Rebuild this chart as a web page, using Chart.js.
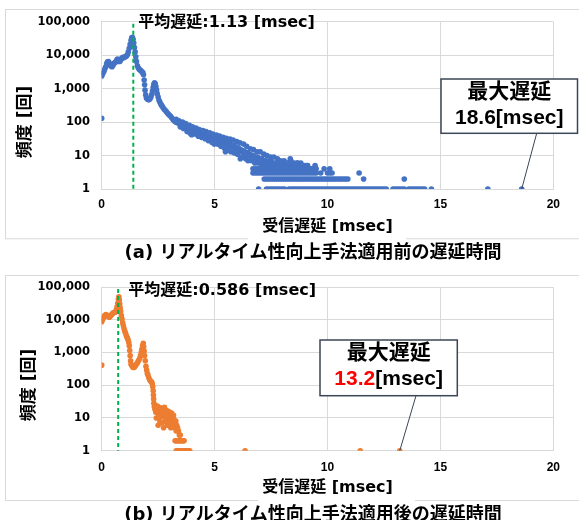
<!DOCTYPE html>
<html>
<head>
<meta charset="utf-8">
<script src="https://cdn.jsdelivr.net/npm/chart.js@4.4.1/dist/chart.umd.min.js"></script>
<style>
  html, body { margin: 0; padding: 0; background: #fff; }
  #wrap { position: relative; width: 579px; height: 520px; overflow: hidden; }
  .box { position: absolute; left: 0; width: 579px; }
</style>
</head>
<body>
<div id="wrap">
  <div class="box" style="top:0;height:265px"><canvas id="before"></canvas></div>
  <div class="box" style="top:265px;height:255px"><canvas id="after"></canvas></div>
</div>
<script>
// axis ticks
const yTicks = [1, 10, 100, 1000, 10000, 100000];
const xMax = 20;
const xStep = 5;

// (a) before - main curve (delay msec / count)
const beforeCurveX = [0, 0, 0.03, 0.06, 0.10, 0.14, 0.18, 0.22, 0.26, 0.30, 0.34, 0.38, 0.42, 0.46, 0.50, 0.54, 0.58, 0.62, 0.66, 0.70,
  0.74, 0.78, 0.82, 0.86, 0.90, 0.94, 0.98, 1.02, 1.06, 1.10, 1.14, 1.18, 1.22, 1.26, 1.30, 1.33, 1.36, 1.39, 1.42, 1.45,
  1.48, 1.51, 1.54, 1.58, 1.62, 1.66, 1.70, 1.74, 1.78, 1.82, 1.85, 1.88, 1.90, 1.92, 1.95, 1.98, 2.02, 2.06, 2.10, 2.14,
  2.18, 2.22, 2.25, 2.28, 2.31, 2.34, 2.37, 2.40, 2.43, 2.46, 2.50, 2.54, 2.58, 2.62, 2.66, 2.70, 2.75, 2.80, 2.85, 2.90,
  2.95, 3.00, 3.05, 3.10, 3.15, 3.20];
const beforeCurveY = [130, 2400, 2700, 3000, 3300, 3900, 4500, 5600, 6300, 6400, 5700, 5100, 4700, 4500, 5000, 5700, 5900, 6200, 7000, 7600,
  7200, 6500, 6700, 7500, 8200, 8600, 8300, 8800, 9100, 9400, 10500, 12500, 16000, 21000, 28000, 33000, 34000, 30000, 23000, 17000,
  12500, 9000, 6500, 4800, 4200, 3800, 3600, 3400, 3200, 3000, 2600, 1800, 1300, 900, 650, 520, 490, 470, 470, 500,
  560, 680, 850, 1100, 1350, 1500, 1400, 1150, 900, 700, 560, 450, 390, 340, 310, 280, 250, 230, 210, 190,
  175, 160, 150, 135, 122, 112];

// (a) before - tail
const beforeTailX = [3.25, 3.30, 3.35, 3.40, 3.45, 3.50, 3.55, 3.60, 3.65, 3.70, 3.75, 3.80, 3.85, 3.90, 3.95, 4.00, 4.05, 4.10, 4.15, 4.20,
  4.25, 4.30, 4.35, 4.40, 4.45, 4.50, 4.55, 4.60, 4.65, 4.70, 4.75, 4.80, 4.85, 4.90, 4.95, 5.00, 5.05, 5.10, 5.15, 5.20,
  5.25, 5.30, 5.35, 5.40, 5.45, 5.50, 5.55, 5.60, 5.65, 5.70, 5.75, 5.80, 5.85, 5.90, 5.95, 6.00, 6.05, 6.10, 6.15, 6.20,
  6.25, 6.30, 6.35, 6.40, 6.45, 6.50, 6.55, 6.60, 6.65, 6.70, 6.75, 6.80, 6.85, 6.90, 6.95, 7.00, 7.05, 7.10, 7.15, 7.20,
  7.25, 7.30, 7.35, 7.40, 7.45, 7.50, 7.55, 7.60, 7.65, 7.70, 7.75, 7.80, 7.85, 7.90, 7.95, 8.00, 8.05, 8.10, 8.15, 8.20,
  8.25, 8.30, 8.35, 8.40, 8.45, 8.50, 8.55, 8.60, 8.65, 8.70, 8.75, 8.80, 8.85, 8.90, 8.95, 9.00, 9.05, 9.10, 9.20, 9.30, 9.40];
const beforeTailY = [104, 98, 101, 92, 95, 86, 89, 78, 82, 72, 76, 66, 70, 60, 64, 56, 60, 52, 56, 49,
  53, 46, 50, 44, 47, 41, 44, 39, 42, 36, 40, 34, 37, 32, 35, 30, 33, 28, 31, 27,
  29, 25, 27, 23, 26, 22, 24, 21, 23, 19, 21, 18, 20, 16, 18, 15, 17, 14, 15, 13,
  14, 12, 13, 11, 12, 10, 11, 10, 9, 10, 8, 9, 8, 9, 7, 8, 7, 8, 6, 7,
  6, 7, 6, 5, 6, 7, 5, 6, 5, 6, 5, 5, 6, 5, 4, 5, 6, 5, 4, 5,
  6, 5, 8, 4, 5, 5, 4, 5, 6, 4, 5, 5, 4, 5, 4, 5, 4, 5, 4, 4, 4];
const beforeHighX = [3.30, 3.42, 3.58, 3.72, 3.88, 4.02, 4.18, 4.32, 4.48, 4.62, 4.78, 4.92, 5.08, 5.22, 5.38, 5.52, 5.68, 5.82, 5.98, 6.12,
  6.28, 6.42, 6.58, 6.72, 6.88, 7.02, 7.18, 7.32, 7.48, 7.62, 7.78, 7.92, 8.08, 8.22, 8.38, 8.52, 8.68, 8.82, 9.12, 9.45, 9.85, 10.1];
const beforeHighY = [122, 110, 100, 90, 80, 72, 66, 60, 56, 52, 48, 44, 41, 38, 35, 33, 31, 29, 26, 24,
  22, 19, 16, 15, 13, 13, 11, 10, 9, 9, 8, 7, 7, 6, 7, 6, 6, 6, 5, 5, 4, 4];
const beforeLowX = [3.48, 3.62, 3.78, 3.92, 3.98, 4.12, 4.28, 4.42, 4.58, 4.72, 4.88, 4.98, 5.12, 5.28, 5.42, 5.48, 5.58, 5.72, 5.88, 6.02,
  6.14, 6.22, 6.38, 6.48, 6.62, 6.78, 6.92, 7.08, 7.22];
const beforeLowY = [72, 64, 52, 46, 42, 44, 38, 35, 32, 28, 25, 22, 22, 19, 17, 13, 15, 13, 12, 11,
  8, 9, 8, 7, 7, 6, 6, 5, 5];

// (a) before - delays that occurred 4, 3, 2 and 1 times
const beforeFourX = [6.7, 6.8, 6.9, 7.0, 7.1, 7.2, 7.3, 7.4, 7.5, 7.6, 7.7, 7.8, 7.9, 8.0, 8.1, 8.2, 8.3, 8.4, 8.5, 8.6,
  8.7, 8.8, 8.9, 9.0, 9.1, 9.2, 9.3, 9.4, 9.5];
const beforeThreeX = [6.7, 6.8, 6.9, 7.0, 7.1, 7.2, 7.3, 7.4, 7.5, 7.6, 7.7, 7.8, 7.9, 8.0, 8.1, 8.2, 8.3, 8.4, 8.5, 8.6,
  8.7, 8.8, 8.9, 9.0, 9.1, 9.2, 9.3, 9.4, 9.5, 9.7, 10.0, 10.1, 10.2, 11.4];
const beforeTwoX = [7.2, 7.3, 7.4, 7.5, 7.6, 7.7, 7.8, 7.9, 8.0, 8.1, 8.2, 8.3, 8.4, 8.5, 8.6, 8.7, 8.8, 8.9, 9.0, 9.1,
  9.2, 9.3, 9.4, 9.5, 9.6, 9.7, 9.8, 9.9, 10.0, 10.1, 10.2, 10.3, 10.4, 10.5, 10.6, 10.7, 10.8, 10.9, 11.6, 13.4];
const beforeOneX = [6.95, 7.3, 7.4, 7.5, 7.6, 7.7, 7.8, 7.9, 8.0, 8.1, 8.3, 8.4, 8.5, 8.6, 8.7, 8.8, 8.9, 9.0, 9.1, 9.2,
  9.3, 9.4, 9.5, 9.6, 9.7, 9.8, 9.9, 10.0, 10.1, 10.2, 10.3, 10.4, 10.5, 10.6, 10.7, 10.8, 10.9, 11.0, 11.1, 11.2,
  11.3, 11.4, 11.5, 11.6, 11.7, 11.8, 11.9, 12.0, 12.1, 12.2, 12.3, 12.4, 12.5, 12.6, 12.9, 13.0, 13.1, 13.2, 13.3, 13.4,
  13.6, 13.7, 13.8, 13.9, 14.0, 14.1, 14.2, 14.3, 14.6, 17.1, 18.6];

// (b) after - main curve
const afterCurveX = [0, 0, 0.03, 0.06, 0.10, 0.14, 0.18, 0.22, 0.26, 0.30, 0.34, 0.38, 0.42, 0.46, 0.50, 0.54, 0.58, 0.62, 0.65, 0.68,
  0.71, 0.74, 0.76, 0.78, 0.80, 0.82, 0.84, 0.87, 0.90, 0.93, 0.96, 0.99, 1.02, 1.05, 1.08, 1.11, 1.14, 1.17, 1.20, 1.22,
  1.24, 1.26, 1.28, 1.30, 1.33, 1.37, 1.41, 1.45, 1.49, 1.53, 1.57, 1.61, 1.65, 1.69, 1.72, 1.75, 1.78, 1.81, 1.84, 1.86,
  1.88, 1.90, 1.93, 1.96, 1.99, 2.02, 2.05, 2.09, 2.13, 2.17, 2.21, 2.24, 2.26, 2.28, 2.29, 2.30, 2.31, 2.33];
const afterCurveY = [410, 8700, 9800, 11000, 12500, 13500, 14500, 14000, 13000, 12500, 12000, 12800, 14000, 15000, 16000, 16500, 17000, 17500, 20000, 25000,
  32000, 42000, 50000, 40000, 30000, 23000, 18000, 13500, 10500, 8000, 6500, 5300, 4500, 4000, 3400, 3000, 2700, 2400, 2000, 1600,
  1150, 800, 560, 440, 400, 360, 350, 360, 390, 430, 470, 530, 600, 680, 800, 1000, 1250, 1600, 1900, 1500,
  1100, 800, 560, 380, 290, 230, 200, 165, 145, 132, 125, 110, 90, 68, 50, 38, 28, 22];

// (b) after - tail
const afterTailX = [2.36, 2.40, 2.44, 2.48, 2.52, 2.56, 2.60, 2.64, 2.68, 2.72, 2.76, 2.80, 2.84, 2.88, 2.92, 2.96, 3.00, 3.04, 3.08, 3.12,
  3.16, 3.20, 3.24, 3.28, 3.32, 3.36, 3.40, 3.44, 3.48];
const afterTailY = [18, 15, 20, 14, 17, 12, 16, 11, 15, 13, 17, 11, 14, 10, 13, 9, 12, 8, 14, 10,
  8, 9, 7, 8, 6, 5, 4, 3, 3];
const afterHighX = [2.38, 2.46, 2.54, 2.62, 2.70, 2.78, 2.86, 2.94, 3.02, 3.10, 3.18];
const afterHighY = [24, 23, 21, 20, 19, 21, 17, 16, 15, 14, 12];
const afterLowX = [2.42, 2.50, 2.58, 2.66, 2.74, 2.82, 2.90, 2.98, 3.06, 3.14, 3.22, 3.30];
const afterLowY = [10, 6, 8, 7, 5, 8, 6, 7, 5, 6, 5, 4];
const afterTwoX = [3.25, 3.30, 3.35, 3.40, 3.45, 3.50, 3.55, 3.60, 3.65];
const afterOneX = [3.30, 3.35, 3.40, 3.45, 3.50, 3.55, 3.60, 3.65, 3.70, 3.75, 3.80, 3.85, 3.90, 6.35, 11.45, 13.2];

const FONT_JP = '"DejaVu Sans", "Noto Sans CJK JP", sans-serif';
const FONT_BOX = '"Liberation Sans", "Noto Sans CJK JP", sans-serif';

function pts(xs, ys) { return xs.map((x, i) => ({ x: x, y: ys[i] })); }
function same(xs, n) { return xs.map(x => ({ x: x, y: n })); }

const decoPlugin = {
  id: 'deco',
  beforeDraw(chart, args, o) {
    const ctx = chart.ctx;
    ctx.save();
    ctx.strokeStyle = '#d9d9d9';
    ctx.lineWidth = 1;
    ctx.strokeRect(5.5, o.frameTop + 0.5, 600, o.frameBottom - o.frameTop);
    ctx.restore();
  },
  afterDraw(chart, args, o) {
    const { ctx, chartArea, scales: { x, y } } = chart;
    ctx.save();

    // mean line
    const mx = x.getPixelForValue(o.meanLineX);
    ctx.strokeStyle = '#00B050';
    ctx.lineWidth = 2;
    ctx.setLineDash([4, 3]);
    ctx.beginPath();
    ctx.moveTo(mx, chartArea.top + 2);
    ctx.lineTo(mx, chartArea.bottom);
    ctx.stroke();
    ctx.setLineDash([]);

    ctx.fillStyle = '#000';
    ctx.font = 'bold 16px ' + FONT_JP;
    ctx.textAlign = 'left';
    ctx.textBaseline = 'middle';
    ctx.fillText(o.meanText, o.meanTextX, o.meanTextY);

    // y title
    ctx.save();
    ctx.translate(o.yTitleX, o.yTitleY);
    ctx.rotate(-Math.PI / 2);
    ctx.textAlign = 'center';
    ctx.font = 'bold 17px ' + FONT_JP;
    ctx.fillText('頻度 [回]', 0, 0);
    ctx.restore();

    // max delay box + leader
    const b = o.box;
    const px = x.getPixelForValue(o.maxX);
    const py = y.getPixelForValue(1);
    ctx.strokeStyle = '#3b4656';
    ctx.lineWidth = 1;
    ctx.beginPath();
    ctx.moveTo(b.leaderX, b.y + b.h);
    ctx.lineTo(px, py);
    ctx.stroke();
    ctx.fillStyle = '#fff';
    ctx.fillRect(b.x, b.y, b.w, b.h);
    ctx.lineWidth = 1.5;
    ctx.strokeRect(b.x, b.y, b.w, b.h);
    ctx.font = 'bold 21px ' + FONT_BOX;
    ctx.textAlign = 'center';
    ctx.fillStyle = '#000';
    const cx = b.x + b.w / 2;
    ctx.fillText('最大遅延', cx, b.y + 13);
    const w1 = ctx.measureText(o.maxText).width;
    const w2 = ctx.measureText('[msec]').width;
    const sx = cx - (w1 + w2) / 2;
    ctx.textAlign = 'left';
    ctx.fillStyle = o.maxColor;
    ctx.fillText(o.maxText, sx, b.y + 39);
    ctx.fillStyle = '#000';
    ctx.fillText('[msec]', sx + w1, b.y + 39);

    // caption
    ctx.fillStyle = '#fff';
    ctx.fillRect(o.capLeft, o.frameBottom - 2, o.capRight - o.capLeft, 40);
    ctx.fillStyle = '#000';
    ctx.font = 'bold 18px ' + FONT_JP;
    ctx.textAlign = 'center';
    ctx.fillText(o.caption, 313, o.capY);
    ctx.restore();
  }
};

function makeChart(id, points, color, d) {
  const tickFont = { family: FONT_BOX, weight: 'bold', size: 12 };
  return new Chart(document.getElementById(id), {
    type: 'scatter',
    data: {
      datasets: [{
        data: points,
        backgroundColor: color,
        borderWidth: 0,
        pointRadius: 2.8,
        pointHoverRadius: 2.8
      }]
    },
    options: {
      responsive: true,
      maintainAspectRatio: false,
      animation: false,
      layout: { padding: { left: 0, right: 25.7, top: d.top, bottom: 0 } },
      plugins: { legend: { display: false }, tooltip: { enabled: false }, deco: d },
      scales: {
        x: {
          type: 'linear', min: 0, max: xMax,
          afterFit: s => { s.height = d.xAxisH; },
          ticks: { stepSize: xStep, padding: d.tickPad, color: '#000', font: tickFont },
          grid: { color: '#d9d9d9', drawTicks: false },
          border: { color: '#d9d9d9' },
          title: {
            display: true, text: '受信遅延 [msec]', color: '#000',
            font: { family: FONT_JP, weight: 'bold', size: 16 },
            padding: { top: 0, bottom: d.xTitlePad }
          }
        },
        y: {
          type: 'logarithmic', min: 1, max: 100000,
          afterFit: s => { s.width = 101.7; },
          afterBuildTicks: s => { s.ticks = yTicks.map(v => ({ value: v })); },
          ticks: {
            padding: 11.7, color: '#000',
            font: { family: FONT_JP, weight: 'bold', size: 11.5 },
            callback: v => Number(v).toLocaleString('en-US')
          },
          grid: { color: '#d9d9d9', drawTicks: false },
          border: { color: '#d9d9d9' }
        }
      }
    },
    plugins: [decoPlugin]
  });
}

const beforePoints = [].concat(
  pts(beforeCurveX, beforeCurveY), pts(beforeTailX, beforeTailY),
  pts(beforeHighX, beforeHighY), pts(beforeLowX, beforeLowY),
  same(beforeFourX, 4), same(beforeThreeX, 3), same(beforeTwoX, 2), same(beforeOneX, 1));

const afterPoints = [].concat(
  pts(afterCurveX, afterCurveY), pts(afterTailX, afterTailY),
  pts(afterHighX, afterHighY), pts(afterLowX, afterLowY),
  same(afterTwoX, 2), same(afterOneX, 1));

makeChart('before', beforePoints, '#4472C4', {
  top: 21.7, xAxisH: 76, tickPad: 8.8, xTitlePad: 28.4,
  frameTop: 9, frameBottom: 238.3,
  meanLineX: 1.4, meanText: '平均遅延:1.13 [msec]', meanTextX: 138.3, meanTextY: 22.5,
  yTitleX: 25.5, yTitleY: 122,
  maxX: 18.6, maxText: '18.6', maxColor: '#000',
  box: { x: 441, y: 79, w: 136.5, h: 54.3, leaderX: 536.7 },
  capLeft: 248, capRight: 406, capY: 253.3,
  caption: '(a) リアルタイム性向上手法適用前の遅延時間'
});

makeChart('after', afterPoints, '#ED7D31', {
  top: 22, xAxisH: 69.3, tickPad: 9.8, xTitlePad: 22.7,
  frameTop: 10, frameBottom: 235,
  meanLineX: 0.73, meanText: '平均遅延:0.586 [msec]', meanTextX: 128.3, meanTextY: 25.8,
  yTitleX: 30, yTitleY: 120,
  maxX: 13.2, maxText: '13.2', maxColor: '#FF0000',
  box: { x: 320, y: 75, w: 137.3, h: 55.7, leaderX: 416 },
  capLeft: 258, capRight: 415, capY: 250,
  caption: '(b) リアルタイム性向上手法適用後の遅延時間'
});
</script>
</body>
</html>
